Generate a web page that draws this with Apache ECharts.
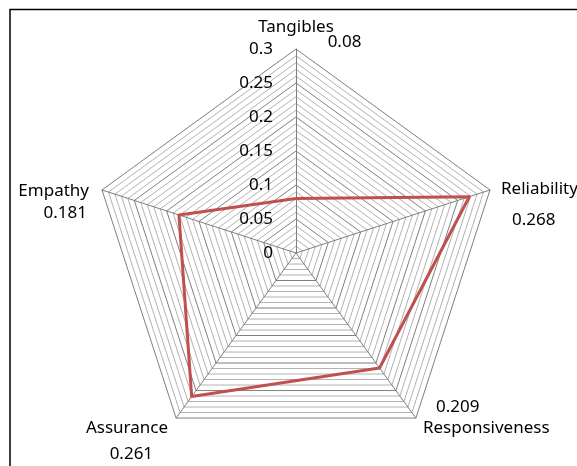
<!DOCTYPE html>
<html>
<head>
<meta charset="utf-8">
<script src="https://cdn.jsdelivr.net/npm/echarts@6/dist/echarts.min.js"></script>
<style>
  html, body { margin: 0; padding: 0; background: #fff; }
  #chart { width: 577px; height: 466px; }
</style>
</head>
<body>
<div id="chart"></div>
<script>
// Service-quality dimensions, listed counter-clockwise from the top axis
const dimensions = ['Tangibles', 'Empathy', 'Assurance', 'Responsiveness', 'Reliability'];
const scores = [0.08, 0.181, 0.261, 0.209, 0.268];
const axisMin = 0;
const axisMax = 0.3;
const ringCount = 30;            // one ring per 0.01
const labelStep = 0.05;          // tick labels every 0.05

// Per-dimension placement of the name and its value next to each vertex
const nameLayouts = {
  Tangibles:      { tpl: (n, v) => `{t1|${n}}\n{t2|${v}}`, style: { align: 'center', verticalAlign: 'bottom', padding: [0, 0, 3, 0] } },
  Empathy:        { tpl: (n, v) => `{e1|${n}}\n{e2|${v}}`, style: { align: 'right', verticalAlign: 'top', padding: [0, 13, 0, 0] } },
  Assurance:      { tpl: (n, v) => `{a1|${n}}\n{a2|${v}}`, style: { align: 'right', verticalAlign: 'top', padding: [0, 8, 0, 0] } },
  Responsiveness: { tpl: (n, v) => `{r2|${v}}\n{r1|${n}}`, style: { align: 'left', verticalAlign: 'middle', padding: [0, 0, 0, 7] } },
  Reliability:    { tpl: (n, v) => `{l1|${n}}\n{l2|${v}}`, style: { align: 'left', verticalAlign: 'middle', padding: [0, 0, 0, 11] } }
};

const FONT = '"Noto Sans", sans-serif';

const indicators = dimensions.map((name, i) => ({
  name: name,
  min: axisMin,
  max: axisMax,
  nameGap: 0,
  nameMoveOverlap: false,
  nameTextStyle: nameLayouts[name].style,
  axisLabel: { show: i === 0 }
}));

// Every fifth ring (each 0.05) is drawn darker
const ringColors = [];
for (let i = 0; i < 5; i++) ringColors.push(i === 0 ? '#7f7f7f' : '#b2b2b2');

const chart = echarts.init(document.getElementById('chart'), null, { renderer: 'canvas' });

chart.setOption({
  backgroundColor: '#ffffff',
  animation: false,
  graphic: [{
    type: 'rect',
    shape: { x: 10, y: 9.5, width: 620, height: 520 },
    style: { fill: 'none', stroke: '#000', lineWidth: 1.5 },
    silent: true
  }],
  radar: {
    center: [296, 253],
    radius: 204,
    startAngle: 90,
    splitNumber: ringCount,
    shape: 'polygon',
    indicator: indicators,
    nameGap: 0,
    nameMoveOverlap: false,
    axisName: {
      color: '#000',
      fontFamily: FONT,
      fontSize: 17,
      formatter: function (name) {
        const idx = dimensions.indexOf(name);
        return nameLayouts[name].tpl(name, String(scores[idx]));
      },
      rich: {
        t1: { fontFamily: FONT, fontSize: 17, color: '#000', lineHeight: 22 },
        t2: { fontFamily: FONT, fontSize: 17, color: '#000', lineHeight: 8, padding: [0, 0, 0, 97] },
        e1: { fontFamily: FONT, fontSize: 17, color: '#000', lineHeight: 2 },
        e2: { fontFamily: FONT, fontSize: 17, color: '#000', lineHeight: 42, padding: [0, 2, 0, 0] },
        a1: { fontFamily: FONT, fontSize: 17, color: '#000', lineHeight: 20 },
        a2: { fontFamily: FONT, fontSize: 17, color: '#000', lineHeight: 32, padding: [0, 15, 0, 0] },
        r1: { fontFamily: FONT, fontSize: 17, color: '#000', lineHeight: 22 },
        r2: { fontFamily: FONT, fontSize: 17, color: '#000', lineHeight: 20, padding: [0, 0, 0, 13] },
        l1: { fontFamily: FONT, fontSize: 17, color: '#000', lineHeight: 60 },
        l2: { fontFamily: FONT, fontSize: 17, color: '#000', lineHeight: 2, padding: [0, 0, 0, 11] }
      }
    },
    axisLine: { show: true, lineStyle: { color: '#7f7f7f', width: 1 } },
    axisTick: { show: false },
    axisLabel: {
      show: false,
      color: '#000',
      fontFamily: FONT,
      fontSize: 17,
      margin: 23,
      formatter: function (v) {
        const k = Math.round(v * 100);
        if (k % Math.round(labelStep * 100) !== 0) return '';
        return String(+(k / 100).toFixed(2));
      }
    },
    splitLine: { show: true, lineStyle: { color: ringColors, width: 1 } },
    splitArea: { show: false }
  },
  series: [{
    type: 'radar',
    symbol: 'none',
    lineStyle: { color: '#C0504D', width: 3 },
    data: [{ value: scores, name: 'Score' }]
  }]
});
</script>
</body>
</html>
